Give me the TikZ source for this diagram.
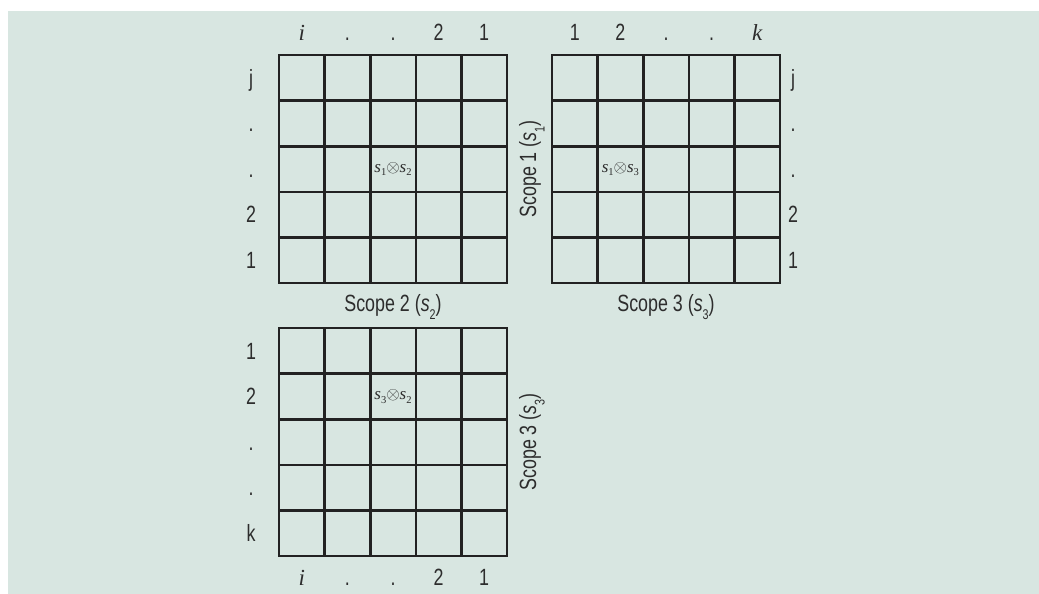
\documentclass[tikz,border=0pt]{standalone}
\usepackage{fontspec}
\setmainfont{Liberation Sans}[FakeStretch=0.76]
\newfontfamily\tms{Liberation Serif}
\definecolor{bg}{RGB}{216,230,225}
\definecolor{ink}{RGB}{45,45,45}
\definecolor{gridc}{RGB}{34,34,34}
\newcommand{\mygrid}[2]{%
  \foreach \k in {1,...,4}{%
    \draw[gridline] ({#1+\k*45.6},#2) -- ({#1+\k*45.6},{#2+228});
    \draw[gridline] (#1,{#2+\k*45.6}) -- ({#1+228},{#2+\k*45.6});
  }
  \draw[gridline] (#1,#2) rectangle ({#1+228},{#2+228});
}
\newcommand{\sub}[1]{\raisebox{-0.45ex}{\scalebox{0.62}{#1}}}
\newcommand{\lsub}[1]{\raisebox{-0.7ex}{\scalebox{0.6}{#1}}}
\begin{document}
\begin{tikzpicture}[x=1pt,y=-1pt,
  gridline/.style={draw=gridc,line width=2.6pt},
  lab/.style={font=\fontsize{23.5}{23.5}\selectfont,text=ink,inner sep=0pt,anchor=base},
  ilab/.style={font=\tms\itshape\fontsize{23}{23}\selectfont,text=ink,inner sep=0pt,anchor=base},
  scope/.style={font=\fontsize{23.5}{23.5}\selectfont,text=ink,inner sep=0pt,rotate=90,anchor=base},
  cell/.style={font=\tms\fontsize{17}{17}\selectfont,text=ink,inner sep=0pt}]
\useasboundingbox (0,0) rectangle (1039,594);
\fill[bg] (8,11) rectangle (1039,594);
% grids
\mygrid{279}{55}
\mygrid{552}{55}
\mygrid{279}{328}
% grid 1 top labels
\node[ilab] (a1) at (301.8,41) {i};
\node[lab] (a2) at (347.4,41) {.};
\node[lab] (a3) at (393,41) {.};
\node[lab] (a4) at (438.6,41) {2};
\node[lab] (a5) at (484.2,41) {1};
% grid 1 left labels
\node[lab] (b1) at (251,86) {j};
\node[lab] (b2) at (251,131.5) {.};
\node[lab] (b3) at (251,177) {.};
\node[lab] (b4) at (251,222.5) {2};
\node[lab] (b5) at (251,268) {1};
% grid 2 top labels
\node[lab] (c1) at (574.8,41) {1};
\node[lab] (c2) at (620.4,41) {2};
\node[lab] (c3) at (666,41) {.};
\node[lab] (c4) at (711.6,41) {.};
\node[ilab] (c5) at (757.2,41) {k};
% grid 2 right labels
\node[lab] (d1) at (793,86) {j};
\node[lab] (d2) at (793,131.5) {.};
\node[lab] (d3) at (793,177) {.};
\node[lab] (d4) at (793,222.5) {2};
\node[lab] (d5) at (793,268) {1};
% grid 3 left labels
\node[lab] (e1) at (251,359) {1};
\node[lab] (e2) at (251,404.5) {2};
\node[lab] (e3) at (251,450) {.};
\node[lab] (e4) at (251,495.5) {.};
\node[lab] (e5) at (251,541) {k};
% grid 3 bottom labels
\node[ilab] (f1) at (301.8,585) {i};
\node[lab] (f2) at (347.4,585) {.};
\node[lab] (f3) at (393,585) {.};
\node[lab] (f4) at (438.6,585) {2};
\node[lab] (f5) at (484.2,585) {1};
% scope labels
\node[lab] (s2) at (393,311) {Scope 2 ({\itshape s}\lsub{2})};
\node[lab] (s3) at (666,311) {Scope 3 ({\itshape s}\lsub{3})};
\node[scope] (s1r) at (536,169) {Scope 1 ({\itshape s}\lsub{1})};
\node[scope] (s3r) at (536,442) {Scope 3 ({\itshape s}\lsub{3})};
% cell labels
\node[cell] (x1) at (393,169) {{\itshape s}\sub{1}$\otimes${\itshape s}\sub{2}};
\node[cell] (x2) at (620.4,169) {{\itshape s}\sub{1}$\otimes${\itshape s}\sub{3}};
\node[cell] (x3) at (393,396.4) {{\itshape s}\sub{3}$\otimes${\itshape s}\sub{2}};
\end{tikzpicture}
\end{document}
